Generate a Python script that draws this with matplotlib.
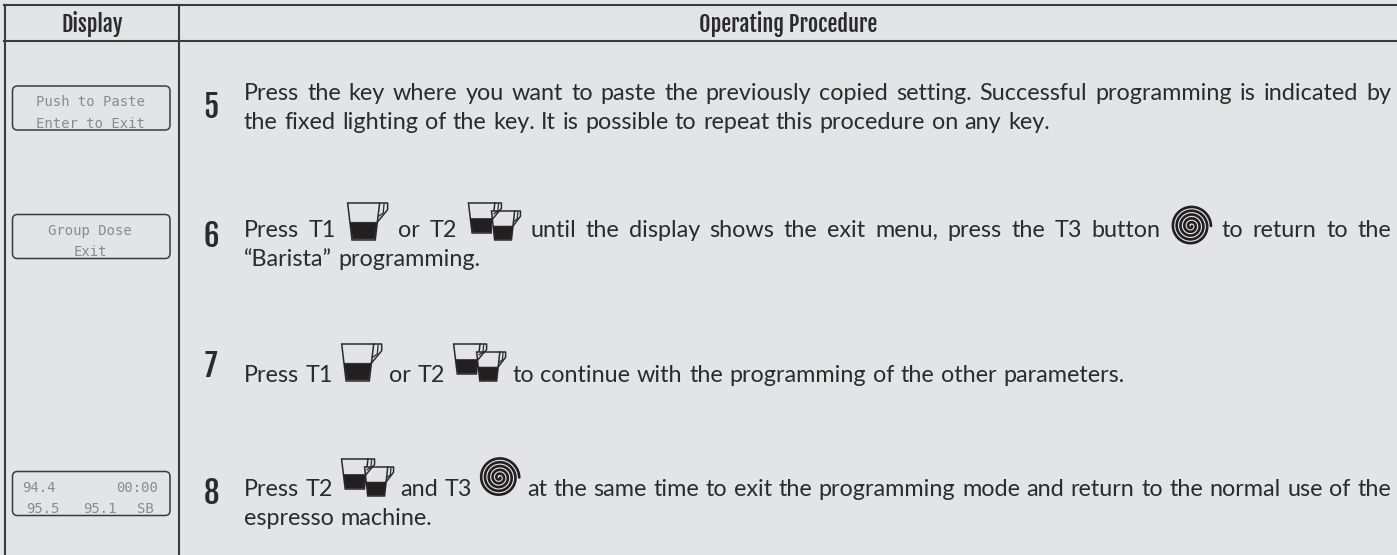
import matplotlib
matplotlib.use("Agg")
import matplotlib.pyplot as plt
from matplotlib.patches import FancyBboxPatch, Polygon
import numpy as np

W, H = 1397, 555
BG = "#e3e4e6"
INK = "#2b2a2c"
LINE = "#3b3a3d"
BODY = "Lato"
NARROW = ["Fjalla One", "Roboto Condensed", "DejaVu Sans"]

headers = ["Display", "Operating Procedure"]
steps = ["5", "6", "7", "8"]
displays = [["Push to Paste", "Enter to Exit"], ["Group Dose", "Exit"]]
home_top = ["94.4", "00:00"]
home_bottom = ["95.5", "95.1", "SB"]

# CUP, CUPS, SPIRAL are icons sitting in the text
CUP, CUPS, SPIRAL = "<cup>", "<cups>", "<spiral>"
line_5a = "Press the key where you want to paste the previously copied setting. Successful programming is indicated by"
line_5b = "the fixed lighting of the key. It is possible to repeat this procedure on any key."
line_6a = ["Press T1", CUP, "or T2", CUPS, "until the display shows the exit menu, press the T3 button", SPIRAL, "to return to the"]
line_6b = "\u201cBarista\u201d programming."
line_7a = ["Press T1", CUP, "or T2", CUPS, "to continue with the programming of the other parameters."]
line_8a = ["Press T2", CUPS, "and T3", SPIRAL, "at the same time to exit the programming mode and return to the normal use of the"]
line_8b = "espresso machine."

fig = plt.figure(figsize=(W / 100, H / 100), dpi=100, facecolor=BG)
ax = fig.add_axes([0, 0, 1, 1])
ax.set_xlim(0, W)
ax.set_ylim(H, 0)
ax.axis("off")
fig.canvas.draw()
rend = fig.canvas.get_renderer()


def word_w(s):
    t = ax.text(0, 0, s, fontsize=FS, family=BODY)
    w = t.get_window_extent(rend).width
    t.remove()
    return w


def cup(x, y, w, h):
    # x,y = top left corner of the rim
    def P(a, b):
        return (x + a * w, y + b * h)
    ax.add_patch(Polygon([P(0, 0), P(0.8, 0), P(0.69, 1), P(0.11, 1)], fc="none", ec=INK, lw=1.1))
    ax.add_patch(Polygon([P(0.07, 0.52), P(0.73, 0.52), P(0.67, 0.97), P(0.13, 0.97)], fc="#231f20", ec="#231f20", lw=0.5))
    ax.plot(*zip(P(0.8, 0), P(1, 0), P(1, 0.18), P(0.74, 0.52)), color=INK, lw=1.1)
    ax.plot(*zip(P(0.91, 0.03), P(0.89, 0.27), P(0.77, 0.36)), color=INK, lw=0.9)


def cups(x, y):
    cup(x, y, 33, 30)
    ax.add_patch(Polygon([(x + 24, y + 8), (x + 51, y + 8), (x + 51, y + 37), (x + 24, y + 37)], fc=BG, ec="none"))
    cup(x + 23, y + 8, 29, 29)


def spiral(cx, cy):
    th = np.linspace(0, 10 * np.pi, 500)
    r = 1 + 19 * th / th.max()
    ax.plot(cx + r * np.cos(th), cy + r * np.sin(th), color="#231f20", lw=1.9, solid_capstyle="round")


ICON_W = {CUP: 43, CUPS: 54, SPIRAL: 42}


def set_line(parts, base, right=None, cup_rise=0, spiral_rise=0):
    # splits the parts into words and icons, then spreads them up to right
    if isinstance(parts, str):
        parts = [parts]
    items = []
    for p in parts:
        if p in ICON_W:
            items.append(p)
        else:
            items += p.split(" ")
    widths = [ICON_W[i] if i in ICON_W else word_w(i) for i in items]
    gap = SPACE if right is None else (right - X0 - sum(widths)) / (len(items) - 1)
    x = X0
    for it, w in zip(items, widths):
        if it == CUP:
            cup(x + 2, base - 34 - cup_rise, 40, 37)
        elif it == CUPS:
            cups(x + 2, base - 34 - cup_rise)
        elif it == SPIRAL:
            spiral(x + 21, base - 11 - spiral_rise)
        else:
            ax.text(x, base, it, fontsize=FS, family=BODY, color=INK, va="baseline", ha="left")
        x += w + gap


FS = 16.8
X0 = 244
R = 1391
SPACE = 6.6

# table rules
ax.plot([4, W], [5, 5], color=LINE, lw=1.5)
ax.plot([4, W], [40.5, 40.5], color=LINE, lw=1.5)
ax.plot([5, 5], [5, H], color=LINE, lw=1.5)
ax.plot([179, 179], [5, H], color=LINE, lw=1.5)

ax.text(92, 32, headers[0], family=NARROW, fontsize=16, color=INK, ha="center", va="baseline")
ax.text(788, 32, headers[1], family=NARROW, fontsize=16, color=INK, ha="center", va="baseline")

# step numbers
for s, b in zip(steps, [118, 247, 377, 504]):
    ax.text(211, b, s, family=NARROW, fontsize=22, color=INK, ha="center", va="baseline")

set_line(line_5a, 100, R)
set_line(line_5b, 129)
set_line(line_6a, 237, R)
set_line(line_6b, 266)
set_line(line_7a, 382, cup_rise=4)
set_line(line_8a, 496, R, cup_rise=3, spiral_rise=7.5)
set_line(line_8b, 525)

# little LCD screens
for top in [86, 214.5, 471.5]:
    ax.add_patch(FancyBboxPatch((12.5, top), 157.5, 44, boxstyle="round,pad=0,rounding_size=5",
                                fc="none", ec=LINE, lw=1.1))

LCD = dict(family="DejaVu Sans Mono", fontsize=10, color="#8a8b8e", va="baseline")
for rows, top in zip(displays, [86, 214.5]):
    ax.text(90, top + 20.5, rows[0], ha="center", **LCD)
    ax.text(90, top + 41.5, rows[1], ha="center", **LCD)
ax.text(22, 492, home_top[0], ha="left", **LCD)
ax.text(158, 492, home_top[1], ha="right", **LCD)
ax.text(26, 513, home_bottom[0], ha="left", **LCD)
ax.text(83, 513, home_bottom[1], ha="left", **LCD)
ax.text(154, 513, home_bottom[2], ha="right", **LCD)

fig.savefig("out.png", dpi=100, facecolor=BG)
